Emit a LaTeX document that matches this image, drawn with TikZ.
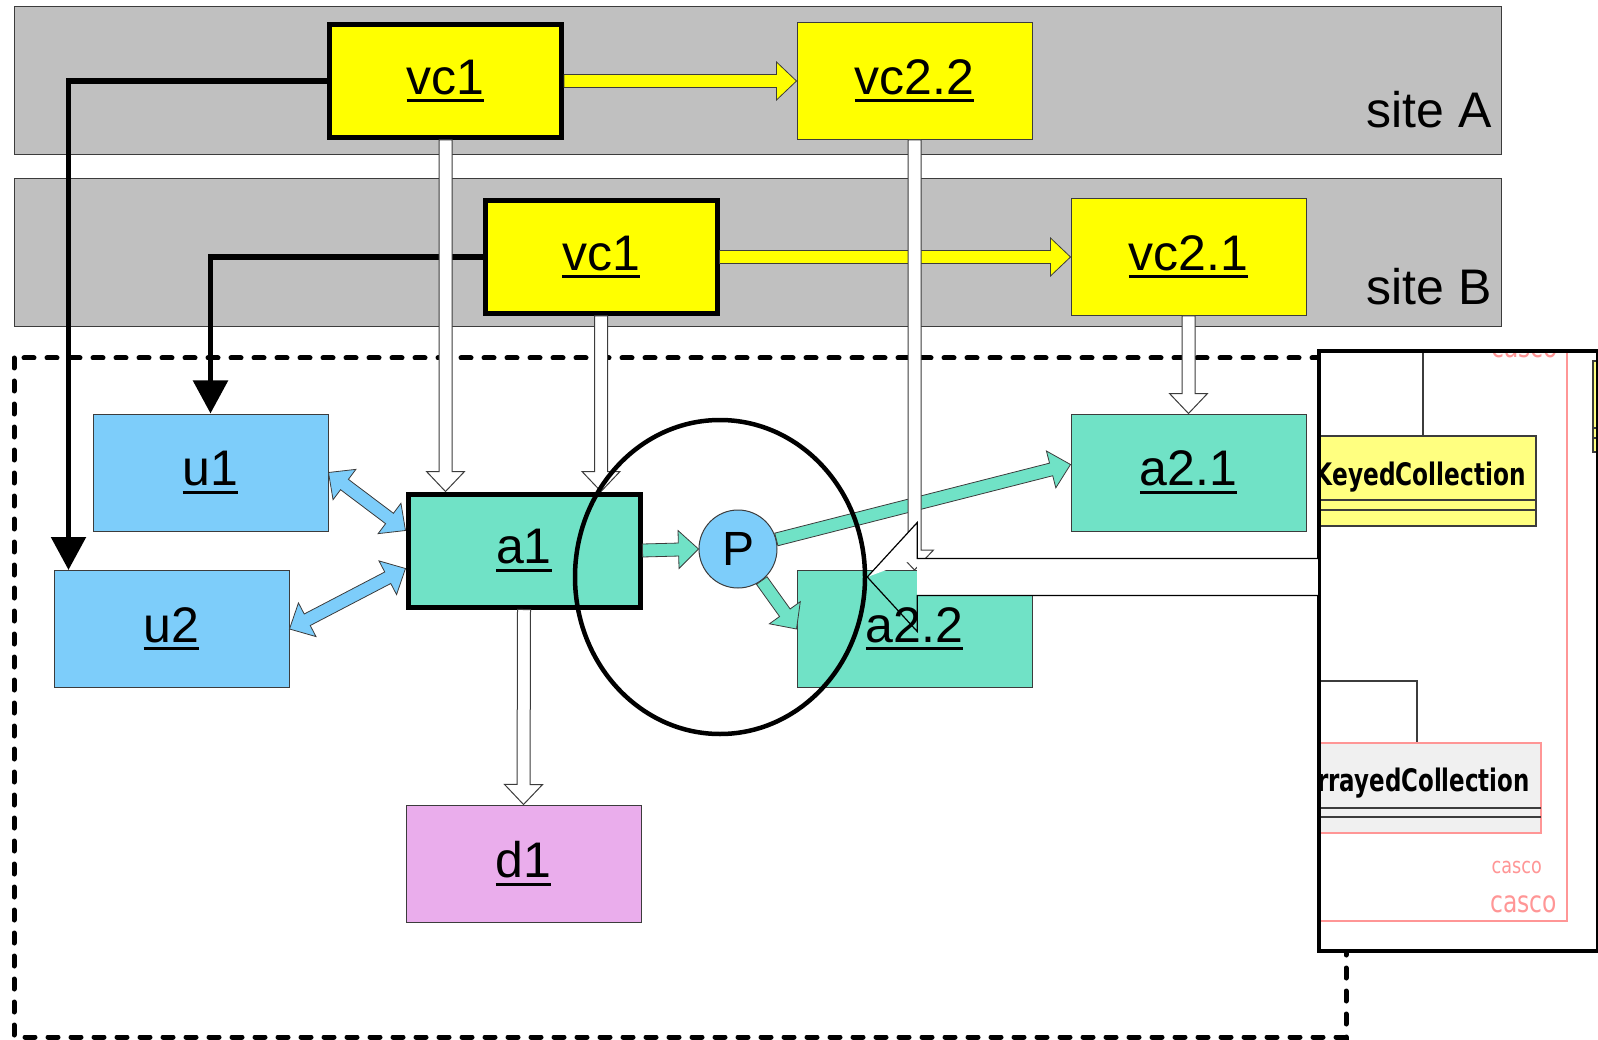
\documentclass[tikz,border=0pt]{standalone}
\usepackage{fontspec}
\usepackage{graphicx}
\setmainfont{Liberation Sans}
\newfontfamily\umlfont{DejaVu Sans}
\usepackage{tikz}
\usetikzlibrary{arrows.meta,calc,shapes.geometric}

\pgfdeclarelayer{front}
\pgfsetlayers{main,front}

\definecolor{bandgray}{RGB}{192,192,192}
\definecolor{vcyellow}{RGB}{255,255,0}
\definecolor{userblue}{RGB}{125,205,250}
\definecolor{appgreen}{RGB}{112,226,198}
\definecolor{datapink}{RGB}{234,173,236}
\definecolor{umlyellow}{RGB}{255,255,128}
\definecolor{umlpink}{RGB}{255,150,150}
\definecolor{umlgray}{RGB}{240,240,240}
\definecolor{edge}{RGB}{60,60,60}

% underlined label, as in the slide
\newcommand{\lnk}[1]{\setbox0=\hbox{#1}\copy0\kern-\wd0\vrule width\wd0 height -5pt depth 8pt}

% block arrow: style, from, to, half shaft, half head, head length
\newcommand{\blockarrow}[6]{%
  \coordinate (ba-c) at ($(#3)!#6!(#2)$);
  \filldraw[#1] ($(#2)!#4!90:(#3)$) -- ($(ba-c)!#4!90:(#3)$) -- ($(ba-c)!#5!90:(#3)$) -- (#3)
    -- ($(ba-c)!#5!-90:(#3)$) -- ($(ba-c)!#4!-90:(#3)$) -- ($(#2)!#4!-90:(#3)$) -- cycle;}
\newcommand{\blockarrowboth}[6]{%
  \coordinate (bb-a) at ($(#2)!#6!(#3)$);
  \coordinate (bb-b) at ($(#3)!#6!(#2)$);
  \filldraw[#1] (#2) -- ($(bb-a)!#5!90:(#3)$) -- ($(bb-a)!#4!90:(#3)$) -- ($(bb-b)!#4!90:(#3)$)
    -- ($(bb-b)!#5!90:(#3)$) -- (#3) -- ($(bb-b)!#5!-90:(#3)$) -- ($(bb-b)!#4!-90:(#3)$)
    -- ($(bb-a)!#4!-90:(#3)$) -- ($(bb-a)!#5!-90:(#3)$) -- cycle;}
\newcommand{\fatarrow}[3]{\blockarrow{#1}{#2}{#3}{6.5pt}{19pt}{20pt}}
\newcommand{\fatarrows}[3]{\blockarrowboth{#1}{#2}{#3}{6.5pt}{19pt}{20pt}}

\tikzset{
  site/.style={fill=bandgray, draw=edge, line width=1pt},
  sitelabel/.style={anchor=base east, inner sep=0pt, font=\fontsize{50}{60}\selectfont},
  box/.style={rectangle, minimum width=235pt, minimum height=117pt, inner sep=0pt,
    draw=edge, line width=1pt, font=\fontsize{50}{60}\selectfont},
  focus/.style={draw=black, line width=5pt, minimum width=232pt, minimum height=113pt},
  vc/.style={box, fill=vcyellow},
  user/.style={box, fill=userblue},
  app/.style={box, fill=appgreen},
  data/.style={box, fill=datapink},
  port/.style={circle, fill=userblue, draw=edge, line width=1pt, minimum size=78pt,
    inner sep=0pt, font=\fontsize{48}{56}\selectfont},
  elbow/.style={line width=5.5pt, -{Triangle[length=33pt,width=34pt]}},
  region/.style={line width=5pt, line cap=round, dash pattern=on 10pt off 13pt},
  vcflow/.style={fill=vcyellow, draw=edge, line width=0.8pt},
  appflow/.style={fill=appgreen, draw=edge, line width=0.8pt},
  userflow/.style={fill=userblue, draw=edge, line width=0.8pt},
  hollow/.style={fill=white, draw=edge, line width=1pt},
  bigflow/.style={fill=none, draw=black, line width=1.2pt},
  zonering/.style={ellipse, draw=black, line width=4.5pt, minimum width=290pt,
    minimum height=314pt, inner sep=0pt},
  panelbox/.style={rectangle, fill=white, minimum width=279pt, minimum height=600pt, inner sep=0pt},
  umlline/.style={draw=edge, line width=2pt},
  umlname/.style={anchor=base east, inner sep=0pt, font=\umlfont\bfseries\fontsize{31}{36}\selectfont},
  casco/.style={anchor=base east, inner sep=0pt, text=umlpink, font=\umlfont}
}

\begin{document}
\begin{tikzpicture}[x=1pt, y=-1pt, line join=miter]
  \useasboundingbox (0,0) rectangle (1598,1040);

  % the two sites
  \draw[site] (14,7) rectangle (1501,155);
  \draw[site] (14,179) rectangle (1501,327);
  \node[sitelabel] (siteA) at (1492,128) {site A};
  \node[sitelabel] (siteB) at (1492,305) {site B};

  % the local region
  \draw[region] (14,358) rectangle (1346,1037);

  % components
  \node[vc, focus] (vcA)  at (445.5,81)  {\lnk{vc1}};
  \node[vc]        (vc22) at (914.5,81)  {\lnk{vc2.2}};
  \node[vc, focus] (vcB)  at (601,257)   {\lnk{vc1}};
  \node[vc]        (vc21) at (1188.5,257) {\lnk{vc2.1}};
  \node[user]      (u1)   at (210.5,472.5) {\lnk{u1}};
  \node[user]      (u2)   at (171.5,629) {\lnk{u2}};
  \node[app, focus] (a1)  at (524,550.5) {\lnk{a1}};
  \node[app]       (a21)  at (1188.5,472.5) {\lnk{a2.1}};
  \node[app]       (a22)  at (914.5,629) {\lnk{a2.2}};
  \node[data]      (d1)   at (523.5,863.5) {\lnk{d1}};
  \node[port]      (P)    at (738,549)   {P};
  \node[panelbox]  (panel) at (1458.5,651) {};
  \begin{pgfonlayer}{front}
    \node[zonering] (zone) at (720,577) {};
  \end{pgfonlayer}

  % end points
  \coordinate (u2in)    at ([xshift=15pt]u2.north west);
  \coordinate (vcAdown) at (vcA.south |- a1.north);
  \coordinate (vcBdown) at (vcB.south |- a1.north);
  \coordinate (vc22down) at (vc22.south |- a22.north);
  \coordinate (a1up)    at ([yshift=20pt]a1.west);
  \coordinate (a1low)   at ([yshift=-18pt]a1.west);
  \coordinate (a21in)   at ([yshift=8pt]a21.west);
  \coordinate (panelout) at (panel.west |- zone.east);

  % black elbows
  \draw[elbow] (vcA.west) -| (u2in);
  \draw[elbow] (vcB.west) -| (u1.north);

  % block arrows
  \fatarrow{vcflow}{vcA.east}{vc22.west}
  \fatarrow{vcflow}{vcB.east}{vc21.west}
  \fatarrows{userflow}{u1.east}{a1up}
  \fatarrows{userflow}{u2.east}{a1low}
  \fatarrow{appflow}{a1.east}{P.west}
  \fatarrow{appflow}{P.14}{a21in}
  \fatarrow{appflow}{P.-53}{a22.west}
  \fatarrow{hollow}{vcA.south}{vcAdown}
  \fatarrow{hollow}{vcB.south}{vcBdown}
  \fatarrow{hollow}{vc21.south}{a21.north}
  \fatarrow{hollow}{vc22.south}{vc22down}
  \fatarrow{hollow}{a1.south}{d1.north}

  % pasted class diagram
  \begin{scope}
    \clip (panel.north west) rectangle (panel.south east);
    \draw[umlpink, line width=2pt] (1290,330) rectangle (1567,921);
    \node[casco, font=\umlfont\fontsize{30}{34}\selectfont] (cascoT) at (1558,358) {\scalebox{0.78}[1]{casco}};
    \draw[umlline] (1423,340) -- (1423,436);
    \filldraw[umlline, fill=umlyellow] (1300,436) rectangle (1536,526);
    \draw[umlline] (1300,500) -- (1536,500);
    \draw[umlline] (1300,510) -- (1536,510);
    \node[umlname] (keyed) at (1526,485) {\scalebox{0.75}[1]{KeyedCollection}};
    \filldraw[umlline, fill=umlyellow] (1593,361) rectangle (1610,452);
    \draw[umlline] (1593,428) -- (1610,428);
    \draw[umlline] (1593,438) -- (1610,438);
    \draw[umlline] (1300,681) -| (1417,743);
    \filldraw[fill=umlgray, draw=umlpink, line width=2pt] (1300,743) rectangle (1541,833);
    \draw[umlline] (1300,808) -- (1541,808);
    \draw[umlline] (1300,817) -- (1541,817);
    \node[umlname] (arrayed) at (1530,791) {\scalebox{0.74}[1]{rrayedCollection}};
    \node[casco, font=\umlfont\fontsize{22}{26}\selectfont] (cascoS) at (1542,873) {\scalebox{0.8}[1]{casco}};
    \node[casco, font=\umlfont\fontsize{30}{34}\selectfont] (cascoL) at (1557,912) {\scalebox{0.78}[1]{casco}};
  \end{scope}
  \draw[line width=4pt] (panel.north west) rectangle (panel.south east);

  % view pointer from the class diagram
  \fill[white] ([yshift=18.5pt]panelout) rectangle ($(zone.east)+(50,18.5)$);
  \fill[white] (zone.east) -- ($(zone.east)+(50,-54.5)$) -- ($(zone.east)+(50,-18.5)$) -- cycle;
  \blockarrow{bigflow}{panelout}{zone.east}{18.5pt}{54.5pt}{50pt}
\end{tikzpicture}
\end{document}
